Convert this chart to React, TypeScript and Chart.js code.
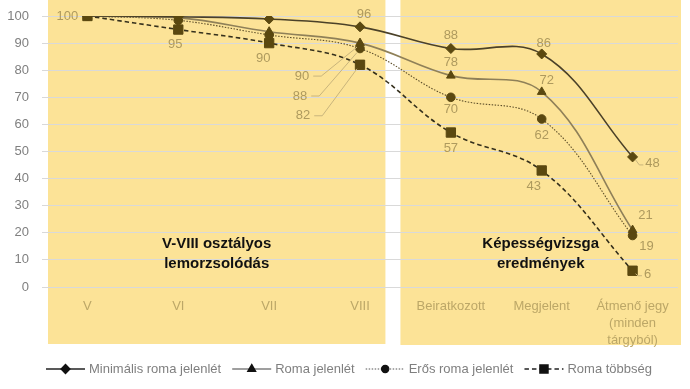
import React, { useEffect, useRef } from 'react';
import { Chart, registerables } from 'chart.js';
import { drawPoint } from 'chart.js/helpers';

Chart.register(...registerables);

// ---- data ----
const categories: (string | string[])[] = [
  'V', 'VI', 'VII', 'VIII', 'Beiratkozott', 'Megjelent', ['Átmenő jegy', '(minden', 'tárgyból)'],
];
const seriesNames = ['Minimális roma jelenlét', 'Roma jelenlét', 'Erős roma jelenlét', 'Roma többség'];
const minimalis = [100, 99.7, 98.9, 96, 88, 86, 48];
const romaJelenlet = [100, 99.4, 94.2, 90, 78, 72, 21];
const erosRoma = [100, 98.4, 93, 88, 70, 62, 19];
const romaTobbseg = [100, 95, 90, 82, 57, 43, 6];
const yMin = 0;
const yMax = 100;
const yStep = 10;
const panelTitles = [
  ['V-VIII osztályos', 'lemorzsolódás'],
  ['Képességvizsga', 'eredmények'],
];

// ---- styles ----
const FONT = "'Liberation Sans', Arial, sans-serif";
const PANEL_COLOR = '#fce397';
const MARKER = '#5a4810';
const LABEL_COLOR = '#ae9a5e';
const LEADER_COLOR = '#c9b57c';

type Place = { dx: number; dy: number; leader?: 'left' | 'tiny' } | null;
// label placement relative to each point (null = no label)
const placements: Place[][] = [
  [{ dx: -20, dy: 0 }, null, null, { dx: 4, dy: -12 }, { dx: 0, dy: -13 }, { dx: 2, dy: -11 }, { dx: 20, dy: 7, leader: 'tiny' }],
  [null, null, null, { dx: -58, dy: 33, leader: 'left' }, { dx: 0, dy: -13 }, { dx: 5, dy: -11 }, { dx: 13, dy: -15 }],
  [null, null, null, { dx: -60, dy: 47.5, leader: 'left' }, { dx: 0, dy: 12 }, { dx: 0, dy: 16 }, { dx: 14, dy: 11 }],
  [null, { dx: -3, dy: 15 }, { dx: -6, dy: 15 }, { dx: -57, dy: 51, leader: 'left' }, { dx: 0, dy: 15.5 }, { dx: -8, dy: 16 }, { dx: 15, dy: 4, leader: 'tiny' }],
];

const seriesStyles = [
  { line: '#4b4128', width: 1.6, dash: [] as number[], point: 'rectRot', radius: 5, legendLine: '#222222' },
  { line: '#8f8058', width: 1.6, dash: [] as number[], point: 'triangle', radius: 5, legendLine: '#7f7f7f' },
  { line: '#5e4f2a', width: 1.1, dash: [1.5, 1.5], point: 'circle', radius: 4.3, legendLine: '#555555' },
  { line: '#35301c', width: 1.6, dash: [4.5, 3], point: 'rect', radius: 6.6, legendLine: '#222222' },
];

const seriesValues = [minimalis, romaJelenlet, erosRoma, romaTobbseg];

const panelPlugin = {
  id: 'panels',
  beforeDraw(chart: any) {
    const ctx = chart.ctx;
    const x = chart.scales.x;
    const half = (x.getPixelForValue(1) - x.getPixelForValue(0)) / 2;
    const p0 = x.getPixelForValue(0);
    const p3 = x.getPixelForValue(3);
    const p4 = x.getPixelForValue(4);
    const p6 = x.getPixelForValue(6);
    const bottom = chart.chartArea.bottom + 57;
    ctx.save();
    ctx.fillStyle = PANEL_COLOR;
    ctx.fillRect(p0 - half + 6, 0, p3 + half - 20 - (p0 - half + 6), bottom);
    ctx.fillRect(p4 - half - 5, 0, p6 + half + 3 - (p4 - half - 5), bottom + 1);
    ctx.restore();
  },
  beforeDatasetsDraw(chart: any) {
    const ctx = chart.ctx;
    const x = chart.scales.x;
    const y = chart.scales.y;
    const half = (x.getPixelForValue(1) - x.getPixelForValue(0)) / 2;
    const lc = ((x.getPixelForValue(0) - half + 6) + (x.getPixelForValue(3) + half - 20)) / 2;
    const rc = ((x.getPixelForValue(4) - half - 5) + (x.getPixelForValue(6) + half + 3)) / 2;
    const y0 = y.getPixelForValue(16);
    ctx.save();
    ctx.fillStyle = '#111111';
    ctx.font = "bold 15px 'Liberation Sans Narrow', 'Liberation Sans', sans-serif";
    ctx.textAlign = 'center';
    ctx.textBaseline = 'middle';
    [lc, rc].forEach((cx, i) => {
      ctx.fillText(panelTitles[i][0], cx, y0);
      ctx.fillText(panelTitles[i][1], cx, y0 + 20);
    });
    ctx.restore();
  },
};

const labelPlugin = {
  id: 'pointLabels',
  afterDatasetsDraw(chart: any) {
    const ctx = chart.ctx;
    ctx.save();
    ctx.font = `13px ${FONT}`;
    ctx.textAlign = 'center';
    ctx.textBaseline = 'middle';
    placements.forEach((row, di) => {
      const meta = chart.getDatasetMeta(di);
      row.forEach((p, i) => {
        if (!p) return;
        const pt = meta.data[i];
        const text = String(Math.round(seriesValues[di][i]));
        const lx = pt.x + p.dx;
        const ly = pt.y + p.dy;
        const tw = ctx.measureText(text).width;
        if (p.leader === 'left') {
          ctx.strokeStyle = LEADER_COLOR;
          ctx.lineWidth = 1;
          ctx.beginPath();
          ctx.moveTo(lx + tw / 2 + 4, ly);
          ctx.lineTo(lx + tw / 2 + 12, ly);
          ctx.lineTo(pt.x - 3, pt.y + 4);
          ctx.stroke();
        } else if (p.leader === 'tiny') {
          ctx.strokeStyle = LEADER_COLOR;
          ctx.lineWidth = 1;
          ctx.beginPath();
          ctx.moveTo(lx - tw / 2 - 2, ly + 1);
          ctx.lineTo(lx - tw / 2 - 6, ly + 1);
          ctx.lineTo(pt.x + 3, pt.y + 3);
          ctx.stroke();
        }
        ctx.fillStyle = LABEL_COLOR;
        ctx.fillText(text, lx, ly);
      });
    });
    ctx.restore();
  },
};

const legendPlugin = {
  id: 'customLegend',
  afterDraw(chart: any) {
    const ctx = chart.ctx;
    ctx.save();
    ctx.font = `13px ${FONT}`;
    const lineLen = 39;
    const gap = 4;
    const itemGap = 11;
    const widths = seriesNames.map((n) => ctx.measureText(n).width);
    const total = widths.reduce((a, w) => a + lineLen + gap + w, 0) + itemGap * (seriesNames.length - 1);
    let x = 349 - total / 2;
    const y = 369;
    seriesNames.forEach((name, i) => {
      const s = seriesStyles[i];
      ctx.strokeStyle = s.legendLine;
      ctx.lineWidth = s.width;
      ctx.setLineDash(s.dash);
      ctx.beginPath();
      ctx.moveTo(x, y);
      ctx.lineTo(x + lineLen, y);
      ctx.stroke();
      ctx.setLineDash([]);
      ctx.fillStyle = '#111111';
      ctx.strokeStyle = '#111111';
      drawPoint(ctx, { pointStyle: s.point as any, radius: s.radius * 0.85, rotation: 0, borderWidth: 1 }, x + lineLen / 2, y);
      ctx.fillStyle = '#7f7f7f';
      ctx.textAlign = 'left';
      ctx.textBaseline = 'middle';
      ctx.fillText(name, x + lineLen + gap, y);
      x += lineLen + gap + widths[i] + itemGap;
    });
    ctx.restore();
  },
};

export default function App() {
  const ref = useRef<HTMLCanvasElement | null>(null);
  useEffect(() => {
    if (!ref.current) return;
    const chart = new Chart(ref.current, {
      type: 'line',
      data: {
        labels: categories as any,
        datasets: seriesValues.map((vals, i) => ({
          label: seriesNames[i],
          data: vals,
          borderColor: seriesStyles[i].line,
          borderWidth: seriesStyles[i].width,
          borderDash: seriesStyles[i].dash,
          tension: 0.38,
          fill: false,
          pointStyle: seriesStyles[i].point as any,
          pointRadius: seriesStyles[i].radius,
          pointBackgroundColor: MARKER,
          pointBorderColor: MARKER,
          pointBorderWidth: 1,
        })),
      },
      options: {
        responsive: false,
        animation: false,
        devicePixelRatio: 1,
        layout: { autoPadding: false, padding: { top: 16, right: 12, left: 0, bottom: 0 } },
        plugins: { legend: { display: false }, tooltip: { enabled: false } },
        scales: {
          x: {
            offset: true,
            grid: { display: false, drawTicks: false },
            border: { display: false },
            ticks: {
              color: '#bca767',
              font: { family: FONT, size: 13, lineHeight: 1.3 },
              padding: 11,
              maxRotation: 0,
              autoSkip: false,
            },
            afterFit: (s: any) => { s.height = 102; },
          },
          y: {
            min: yMin,
            max: yMax,
            ticks: { stepSize: yStep, padding: 13, color: '#7f7f7f', font: { family: FONT, size: 13 } },
            grid: { color: '#d9d9d9', drawTicks: false, lineWidth: 1 },
            border: { display: false },
            afterFit: (s: any) => { s.width = 42; s.paddingTop = 0; s.paddingBottom = 0; },
          },
        },
      },
      plugins: [panelPlugin, labelPlugin, legendPlugin],
    });
    return () => chart.destroy();
  }, []);
  return (
    <div style={{ position: 'absolute', left: 0, top: 0, width: 690, height: 389, background: '#ffffff' }}>
      <canvas ref={ref} width={690} height={389} style={{ display: 'block' }} />
    </div>
  );
}
